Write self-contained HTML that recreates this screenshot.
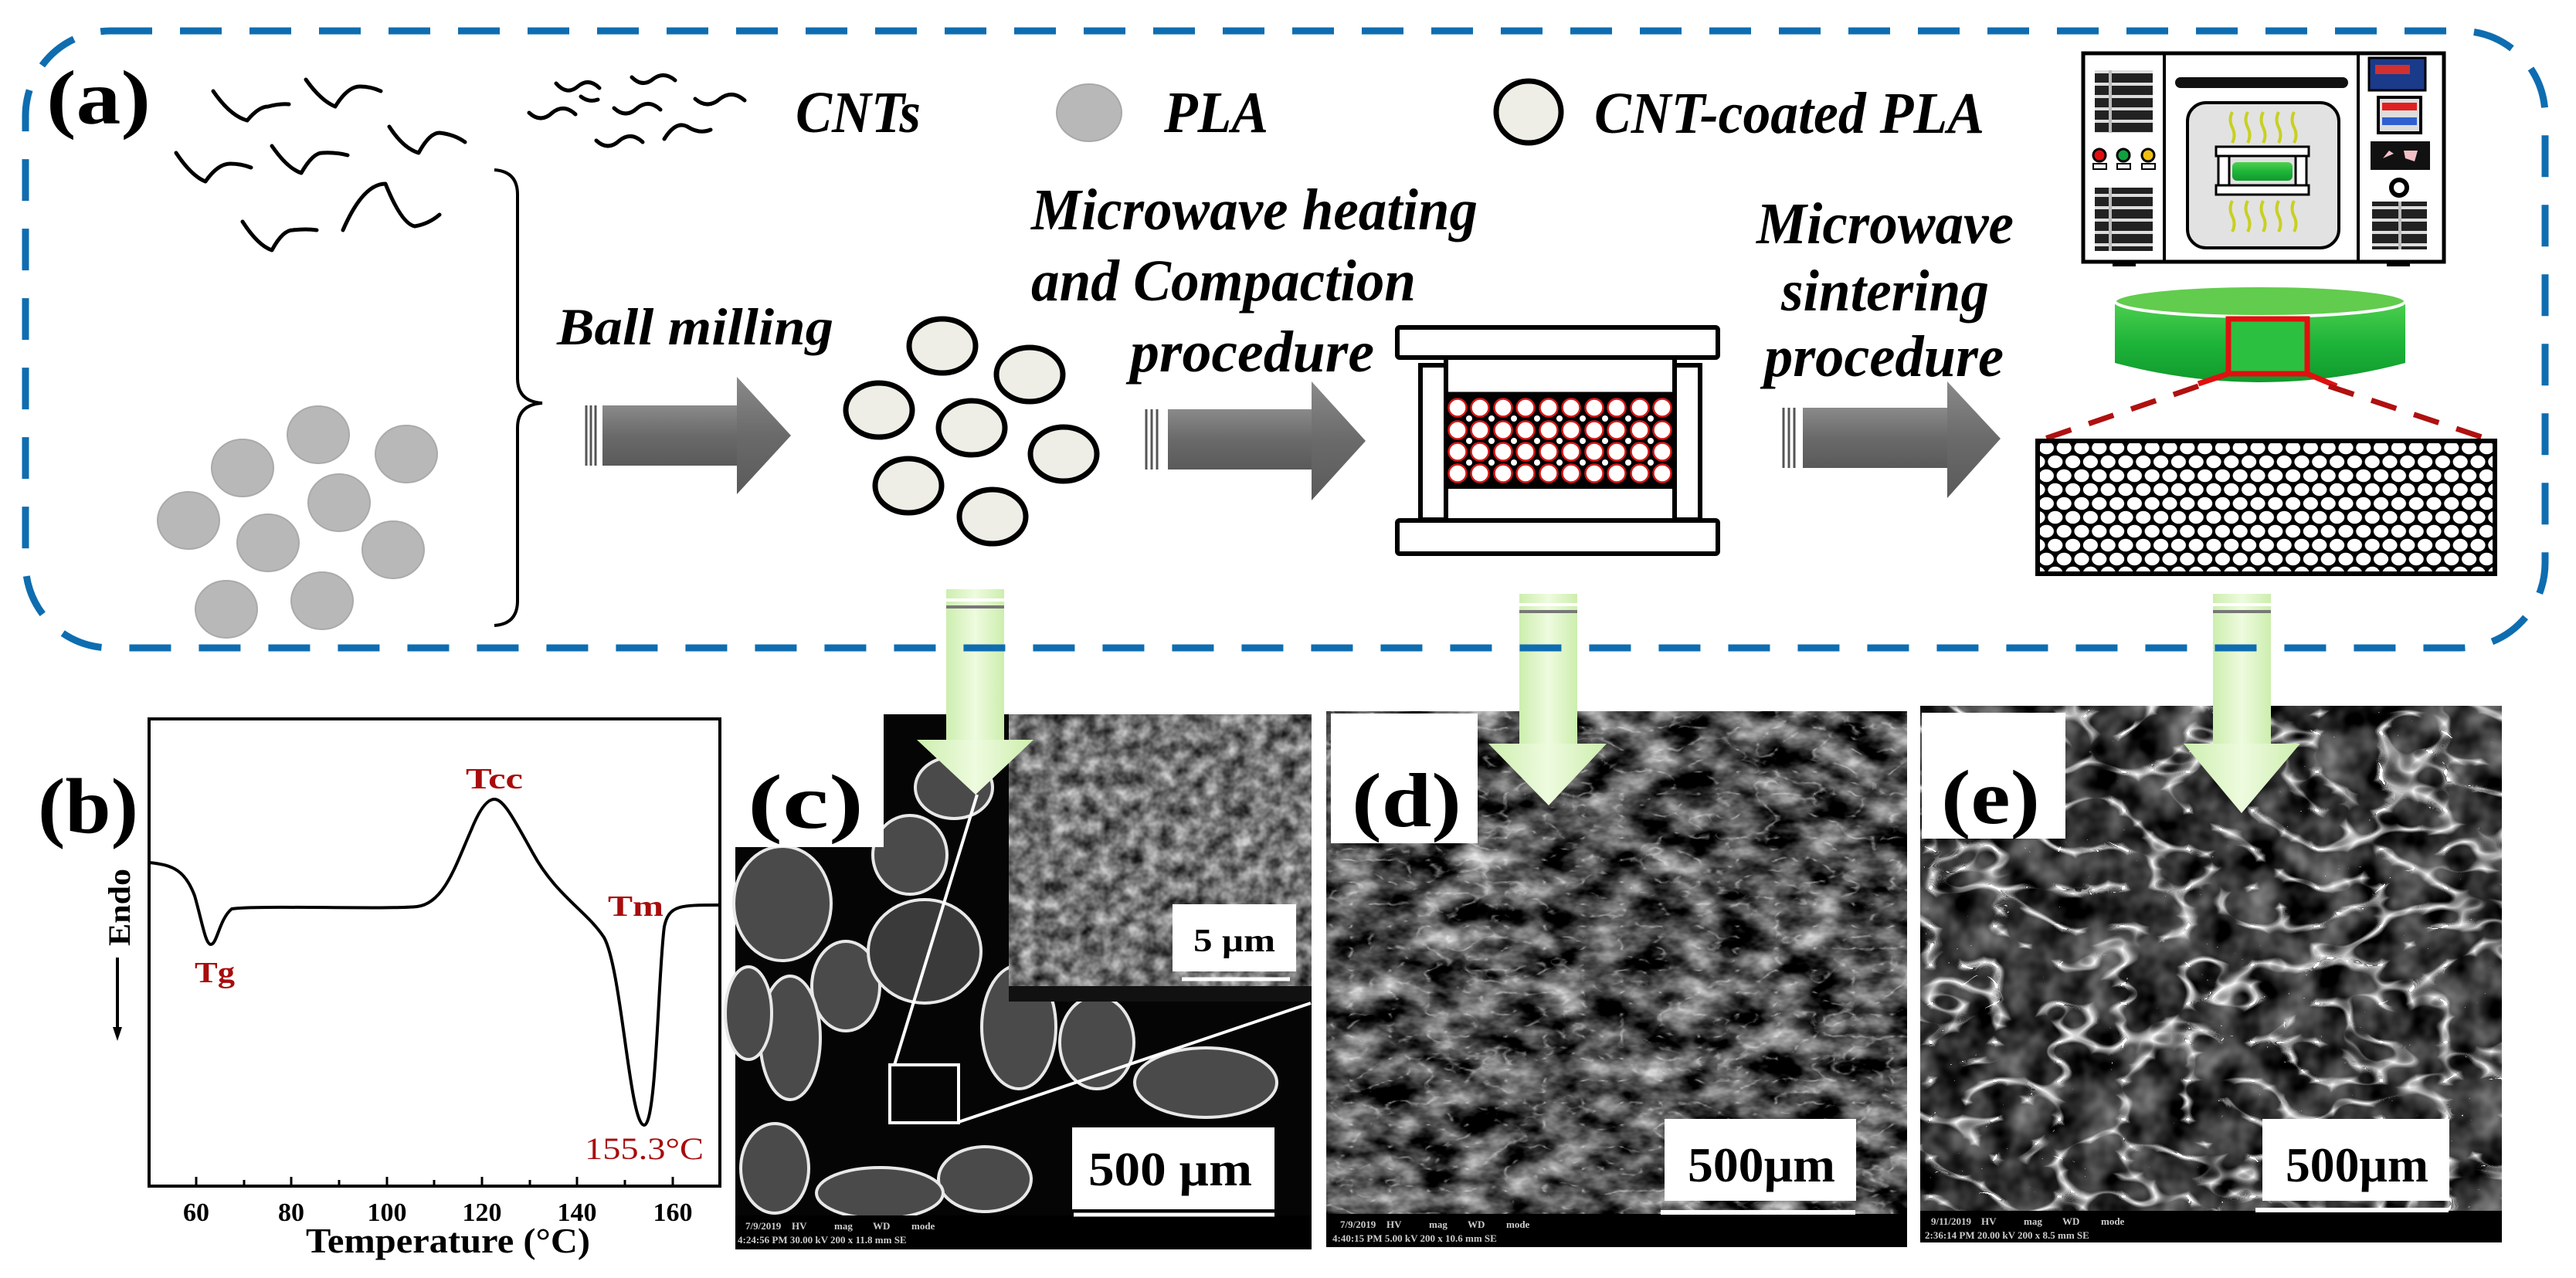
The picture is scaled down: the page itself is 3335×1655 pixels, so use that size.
<!DOCTYPE html>
<html><head><meta charset="utf-8"><style>
html,body{margin:0;padding:0;background:#fff;}
svg{display:block;}
text{font-family:"Liberation Serif",serif;font-weight:bold;}
.it{font-style:italic;}
</style></head><body>
<svg width="3335" height="1655" viewBox="0 0 3335 1655" xmlns="http://www.w3.org/2000/svg">
<defs>
<linearGradient id="garr" x1="0" y1="0" x2="1" y2="0">
<stop offset="0" stop-color="#cdeeae"/><stop offset="0.5" stop-color="#eefbdf"/><stop offset="1" stop-color="#cdeeae"/></linearGradient>
<linearGradient id="gray" x1="0" y1="0" x2="0" y2="1">
<stop offset="0" stop-color="#8a8a8a"/><stop offset="0.5" stop-color="#6a6a6a"/><stop offset="1" stop-color="#5a5a5a"/></linearGradient>
<linearGradient id="green" x1="0" y1="0" x2="0" y2="1">
<stop offset="0" stop-color="#4fd04f"/><stop offset="0.5" stop-color="#1fb53a"/><stop offset="1" stop-color="#0f9a2c"/></linearGradient>
<pattern id="hex" x="2638" y="571" width="22.8" height="36" patternUnits="userSpaceOnUse">
<rect width="22.8" height="36" fill="#000"/>
<ellipse cx="11.4" cy="9" rx="9.6" ry="8.2" fill="#fff"/>
<ellipse cx="0" cy="27" rx="9.6" ry="8.2" fill="#fff"/>
<ellipse cx="22.8" cy="27" rx="9.6" ry="8.2" fill="#fff"/>
</pattern>
<pattern id="grill" width="75" height="16" patternUnits="userSpaceOnUse">
<rect width="75" height="16" fill="#222"/><rect y="11" width="75" height="4" fill="#ddd"/>
<rect x="30" width="4" height="16" fill="#bbb"/>
</pattern>
<filter id="fd" x="0" y="0" width="1" height="1" color-interpolation-filters="sRGB">
<feTurbulence type="fractalNoise" baseFrequency="0.018 0.03" numOctaves="4" seed="7"/>
<feColorMatrix type="matrix" values="1.5 0 0 0 -0.45  1.5 0 0 0 -0.45  1.5 0 0 0 -0.45  0 0 0 0 1"/>
</filter>
<filter id="fd2" x="0" y="0" width="1" height="1" color-interpolation-filters="sRGB">
<feTurbulence type="turbulence" baseFrequency="0.02 0.035" numOctaves="3" seed="5"/>
<feColorMatrix type="matrix" values="0 0 0 0 1  0 0 0 0 1  0 0 0 0 1  -6 0 0 0 0.9"/>
</filter>
<filter id="fe" x="0" y="0" width="1" height="1" color-interpolation-filters="sRGB">
<feTurbulence type="turbulence" baseFrequency="0.012 0.02" numOctaves="2" seed="3"/>
<feColorMatrix type="matrix" values="0 0 0 0 1  0 0 0 0 1  0 0 0 0 1  -6 0 0 0 1.0"/>
</filter>
<filter id="fe2" x="0" y="0" width="1" height="1" color-interpolation-filters="sRGB">
<feTurbulence type="fractalNoise" baseFrequency="0.02" numOctaves="3" seed="9"/>
<feColorMatrix type="matrix" values="0.9 0 0 0 -0.25  0.9 0 0 0 -0.25  0.9 0 0 0 -0.25  0 0 0 0 1"/>
</filter>
<filter id="fc" x="0" y="0" width="1" height="1" color-interpolation-filters="sRGB">
<feTurbulence type="fractalNoise" baseFrequency="0.05" numOctaves="3" seed="11"/>
<feColorMatrix type="matrix" values="1.0 0 0 0 -0.05  1.0 0 0 0 -0.05  1.0 0 0 0 -0.05  0 0 0 0 1"/>
</filter>
</defs>

<g>
<rect x="1225" y="763" width="75" height="200" fill="url(#garr)"/>
<rect x="1225" y="775" width="75" height="4" fill="#fff"/><rect x="1225" y="784" width="75" height="4" fill="#777"/>
<rect x="1967" y="769" width="75" height="196" fill="url(#garr)"/>
<rect x="1967" y="781" width="75" height="4" fill="#fff"/><rect x="1967" y="790" width="75" height="4" fill="#777"/>
<rect x="2865" y="769" width="75" height="196" fill="url(#garr)"/>
<rect x="2865" y="781" width="75" height="4" fill="#fff"/><rect x="2865" y="790" width="75" height="4" fill="#777"/>
</g>

<rect x="33" y="40" width="3262" height="799" rx="110" fill="none" stroke="#0e6db0" stroke-width="9" stroke-dasharray="54 36"/>

<text x="60" y="160" font-size="100" textLength="135" lengthAdjust="spacingAndGlyphs">(a)</text>

<g fill="none" stroke="#000" stroke-width="5" stroke-linecap="round" stroke-linejoin="round">
<path d="M276,118 Q298,150 320,156 Q335,138 347,138 Q362,134 374,135"/>
<path d="M396,103 Q415,130 434,138 Q450,112 466,112 Q480,112 493,118"/>
<path d="M228,198 Q248,228 266,235 Q282,212 298,212 Q312,212 325,217"/>
<path d="M352,189 Q372,218 390,224 Q405,198 417,198 Q435,197 450,201"/>
<path d="M504,164 Q522,192 542,198 Q556,172 569,172 Q588,174 602,184"/>
<path d="M314,287 Q334,318 352,324 Q366,298 379,298 Q396,296 410,298"/>
<path d="M444,298 Q470,238 499,238 Q520,290 537,293 Q555,290 569,278"/>
</g>
<g fill="none" stroke="#000" stroke-width="5" stroke-linecap="round">
<path d="M720,108 q14,16 28,4 q14,-12 28,2"/>
<path d="M818,100 q14,14 28,2 q14,-10 28,2"/>
<path d="M685,146 q15,14 30,0 q15,-12 30,2"/>
<path d="M795,140 q15,14 30,0 q15,-12 30,2"/>
<path d="M900,128 q16,14 32,0 q16,-12 32,2"/>
<path d="M772,182 q15,14 30,0 q15,-12 30,2"/>
<path d="M860,180 q15,-24 30,-16 q15,10 30,4"/>
<path d="M752,125 q10,8 22,4"/>
</g>
<text class="it" x="1030" y="171" font-size="76" textLength="162" lengthAdjust="spacingAndGlyphs">CNTs</text>
<ellipse cx="1410" cy="146" rx="42" ry="37" fill="#b8b8b8" stroke="#a8a8a8" stroke-width="2"/>
<text class="it" x="1507" y="171" font-size="76" textLength="135" lengthAdjust="spacingAndGlyphs">PLA</text>
<ellipse cx="1979" cy="145" rx="42" ry="40" fill="#efeee6" stroke="#000" stroke-width="7"/>
<text class="it" x="2064" y="172" font-size="76" textLength="505" lengthAdjust="spacingAndGlyphs">CNT-coated PLA</text>

<g fill="#b8b8b8" stroke="#aaa" stroke-width="2">
<ellipse cx="412" cy="563" rx="40" ry="37"/><ellipse cx="314" cy="606" rx="40" ry="37"/>
<ellipse cx="526" cy="588" rx="40" ry="37"/><ellipse cx="439" cy="651" rx="40" ry="37"/>
<ellipse cx="244" cy="674" rx="40" ry="37"/><ellipse cx="347" cy="703" rx="40" ry="37"/>
<ellipse cx="509" cy="712" rx="40" ry="37"/><ellipse cx="293" cy="789" rx="40" ry="37"/>
<ellipse cx="417" cy="778" rx="40" ry="37"/>
</g>
<path d="M640,220 Q670,222 670,252 L670,490 Q670,520 702,522 Q670,524 670,554 L670,778 Q670,808 640,810" fill="none" stroke="#000" stroke-width="4"/>

<text class="it" x="721" y="446" font-size="68" textLength="358" lengthAdjust="spacingAndGlyphs">Ball milling</text>

<g fill="url(#gray)">
<rect x="780" y="525" width="176" height="78"/><polygon points="954,488 1024,564 954,640"/>
<rect x="1512" y="530" width="188" height="78"/><polygon points="1698,494 1768,571 1698,648"/>
<rect x="2334" y="528" width="189" height="78"/><polygon points="2521,494 2590,568 2521,645"/>
</g>
<g stroke="#555" stroke-width="3">
<line x1="759" y1="525" x2="759" y2="603"/><line x1="765" y1="525" x2="765" y2="603"/><line x1="771" y1="525" x2="771" y2="603"/>
<line x1="1484" y1="530" x2="1484" y2="608"/><line x1="1491" y1="530" x2="1491" y2="608"/><line x1="1498" y1="530" x2="1498" y2="608"/>
<line x1="2309" y1="528" x2="2309" y2="606"/><line x1="2316" y1="528" x2="2316" y2="606"/><line x1="2323" y1="528" x2="2323" y2="606"/>
</g>

<g fill="#efeee6" stroke="#000" stroke-width="7">
<ellipse cx="1220" cy="448" rx="43" ry="35"/><ellipse cx="1333" cy="485" rx="43" ry="35"/>
<ellipse cx="1138" cy="531" rx="43" ry="35"/><ellipse cx="1258" cy="554" rx="43" ry="35"/>
<ellipse cx="1377" cy="588" rx="43" ry="35"/><ellipse cx="1176" cy="629" rx="43" ry="35"/>
<ellipse cx="1285" cy="669" rx="43" ry="35"/>
</g>

<text class="it" x="1335" y="297" font-size="76" textLength="578" lengthAdjust="spacingAndGlyphs">Microwave heating</text>
<text class="it" x="1335" y="389" font-size="76" textLength="498" lengthAdjust="spacingAndGlyphs">and Compaction</text>
<text class="it" x="1463" y="481" font-size="76" textLength="316" lengthAdjust="spacingAndGlyphs">procedure</text>

<text class="it" x="2274" y="315" font-size="76" textLength="333" lengthAdjust="spacingAndGlyphs">Microwave</text>
<text class="it" x="2306" y="402" font-size="76" textLength="269" lengthAdjust="spacingAndGlyphs">sintering</text>
<text class="it" x="2284" y="487" font-size="76" textLength="310" lengthAdjust="spacingAndGlyphs">procedure</text>

<g stroke="#000" stroke-width="6" fill="#fff">
<rect x="1809" y="424" width="415" height="39" rx="3"/>
<rect x="1839" y="473" width="33" height="200"/>
<rect x="2168" y="473" width="33" height="200"/>
<line x1="1872" y1="463" x2="1872" y2="673"/><line x1="2168" y1="463" x2="2168" y2="673"/>
<rect x="1809" y="674" width="415" height="43" rx="3"/>
</g>
<rect x="1873" y="510" width="295" height="123" fill="#000"/>
<g fill="#fff">
<g id="dots">
<circle cx="1902" cy="542" r="4"/><circle cx="1931" cy="542" r="4"/><circle cx="1960" cy="542" r="4"/><circle cx="1990" cy="542" r="4"/><circle cx="2019" cy="542" r="4"/><circle cx="2049" cy="542" r="4"/><circle cx="2078" cy="542" r="4"/><circle cx="2108" cy="542" r="4"/><circle cx="2137" cy="542" r="4"/>
</g>
<use href="#dots" y="29"/><use href="#dots" y="57"/>
</g>
<g fill="#fff" stroke="#d81818" stroke-width="2.5">
<g id="crow">
<circle cx="1887" cy="528" r="11.5"/><circle cx="1916" cy="528" r="11.5"/><circle cx="1946" cy="528" r="11.5"/><circle cx="1975" cy="528" r="11.5"/><circle cx="2005" cy="528" r="11.5"/><circle cx="2034" cy="528" r="11.5"/><circle cx="2064" cy="528" r="11.5"/><circle cx="2093" cy="528" r="11.5"/><circle cx="2123" cy="528" r="11.5"/><circle cx="2152" cy="528" r="11.5"/>
</g>
<use href="#crow" y="29"/><use href="#crow" y="57"/><use href="#crow" y="85"/>
</g>
<line x1="1873" y1="510" x2="2168" y2="510" stroke="#000" stroke-width="5"/>

<rect x="2697" y="69" width="467" height="270" fill="#fff" stroke="#000" stroke-width="5"/>
<line x1="2802" y1="69" x2="2802" y2="339" stroke="#000" stroke-width="4"/>
<line x1="3053" y1="69" x2="3053" y2="339" stroke="#000" stroke-width="4"/>
<rect x="2712" y="91" width="75" height="81" fill="url(#grill)"/>
<rect x="2712" y="243" width="75" height="82" fill="url(#grill)"/>
<circle cx="2718" cy="201" r="8" fill="#e01010" stroke="#000" stroke-width="3"/>
<circle cx="2749" cy="201" r="8" fill="#10a040" stroke="#000" stroke-width="3"/>
<circle cx="2781" cy="201" r="8" fill="#f0c010" stroke="#000" stroke-width="3"/>
<g fill="#fff" stroke="#000" stroke-width="2"><rect x="2710" y="212" width="17" height="7"/><rect x="2741" y="212" width="17" height="7"/><rect x="2773" y="212" width="17" height="7"/></g>
<rect x="2816" y="100" width="224" height="14" rx="7" fill="#111"/>
<rect x="2832" y="133" width="196" height="188" rx="24" fill="#e2e2e2" stroke="#000" stroke-width="4"/>
<rect x="2869" y="190" width="120" height="12" fill="#fff" stroke="#000" stroke-width="3"/>
<rect x="2869" y="240" width="120" height="12" fill="#fff" stroke="#000" stroke-width="3"/>
<rect x="2872" y="202" width="14" height="38" fill="#fff" stroke="#000" stroke-width="3"/>
<rect x="2972" y="202" width="14" height="38" fill="#fff" stroke="#000" stroke-width="3"/>
<rect x="2890" y="210" width="78" height="24" rx="6" fill="url(#green)"/>
<g stroke="#c8d020" stroke-width="4" fill="none">
<path d="M2890,185 q5,-10 0,-20 q-5,-10 0,-20"/><path d="M2910,185 q5,-10 0,-20 q-5,-10 0,-20"/><path d="M2930,185 q5,-10 0,-20 q-5,-10 0,-20"/><path d="M2950,185 q5,-10 0,-20 q-5,-10 0,-20"/><path d="M2970,185 q5,-10 0,-20 q-5,-10 0,-20"/>
<path d="M2890,300 q5,-10 0,-20 q-5,-10 0,-20"/><path d="M2910,300 q5,-10 0,-20 q-5,-10 0,-20"/><path d="M2930,300 q5,-10 0,-20 q-5,-10 0,-20"/><path d="M2950,300 q5,-10 0,-20 q-5,-10 0,-20"/><path d="M2970,300 q5,-10 0,-20 q-5,-10 0,-20"/>
</g>
<rect x="3067" y="75" width="73" height="42" fill="#1a3a8a" stroke="#000" stroke-width="3"/>
<rect x="3075" y="84" width="45" height="12" fill="#d03030"/>
<rect x="3079" y="126" width="55" height="46" fill="#ddd" stroke="#000" stroke-width="4"/>
<rect x="3084" y="133" width="45" height="10" fill="#e02020"/><rect x="3084" y="152" width="45" height="10" fill="#3060d0"/>
<rect x="3069" y="183" width="77" height="37" fill="#111"/>
<path d="M3085,205 l8,-10 l6,4 z M3112,195 l18,0 l-4,14 l-12,-4 z" fill="#f4c0c8"/>
<circle cx="3106" cy="243" r="10" fill="#fff" stroke="#000" stroke-width="6"/>
<rect x="3071" y="261" width="71" height="62" fill="url(#grill)"/>
<rect x="2735" y="339" width="30" height="6" fill="#000"/><rect x="3090" y="339" width="30" height="6" fill="#000"/>

<path d="M2738,390 L2738,470 Q2926,520 3114,470 L3114,390 Z" fill="url(#green)"/>
<ellipse cx="2926" cy="390" rx="188" ry="20" fill="#62cc4e" stroke="#fff" stroke-width="4"/>
<rect x="2885" y="413" width="102" height="71" fill="#2cc040" stroke="#e01010" stroke-width="7"/>
<path d="M2885,484 L2846,497 M2987,484 L3025,500" stroke="#e01010" stroke-width="7"/>
<path d="M2846,500 L2639,571 M3015,500 L3228,571" stroke="#b01010" stroke-width="7" stroke-dasharray="34 24"/>

<rect x="2638" y="571" width="592" height="172" fill="url(#hex)" stroke="#000" stroke-width="6"/>

<text x="49" y="1078" font-size="102" textLength="130" lengthAdjust="spacingAndGlyphs">(b)</text>
<text x="0" y="0" font-size="40" transform="translate(168,1225) rotate(-90)" textLength="100" lengthAdjust="spacingAndGlyphs">Endo</text>
<line x1="152" y1="1240" x2="152" y2="1335" stroke="#000" stroke-width="4"/>
<polygon points="146,1330 158,1330 152,1348" fill="#000"/>
<rect x="193" y="931" width="739" height="605" fill="none" stroke="#000" stroke-width="4"/>
<g stroke="#000" stroke-width="3">
<line x1="254" y1="1536" x2="254" y2="1524"/><line x1="316" y1="1536" x2="316" y2="1528"/><line x1="377" y1="1536" x2="377" y2="1524"/><line x1="439" y1="1536" x2="439" y2="1528"/><line x1="501" y1="1536" x2="501" y2="1524"/><line x1="562" y1="1536" x2="562" y2="1528"/><line x1="624" y1="1536" x2="624" y2="1524"/><line x1="686" y1="1536" x2="686" y2="1528"/><line x1="747" y1="1536" x2="747" y2="1524"/><line x1="809" y1="1536" x2="809" y2="1528"/><line x1="871" y1="1536" x2="871" y2="1524"/>
</g>
<g font-size="34" text-anchor="middle">
<text x="254" y="1581">60</text><text x="377" y="1581">80</text><text x="501" y="1581">100</text><text x="624" y="1581">120</text><text x="747" y="1581">140</text><text x="871" y="1581">160</text>
</g>
<text x="396" y="1622" font-size="46" textLength="368" lengthAdjust="spacingAndGlyphs">Temperature (°C)</text>
<path d="M193,1117 C225,1120 240,1128 252,1160 C262,1195 266,1223 273,1223 C281,1223 284,1190 300,1177 C330,1172 500,1178 540,1174 C575,1170 590,1120 610,1075 C622,1045 632,1035 640,1035 C652,1035 665,1060 690,1105 C720,1160 760,1180 782,1214 C805,1255 815,1457 834,1457 C850,1457 852,1260 860,1200 C866,1172 880,1172 932,1172" fill="none" stroke="#000" stroke-width="4"/>
<g fill="#a80c0c">
<text x="603" y="1021" font-size="38" textLength="74" lengthAdjust="spacingAndGlyphs">Tcc</text>
<text x="787" y="1186" font-size="38" textLength="72" lengthAdjust="spacingAndGlyphs">Tm</text>
<text x="252" y="1272" font-size="38" textLength="52" lengthAdjust="spacingAndGlyphs">Tg</text>
<text x="757" y="1501" font-size="40" textLength="154" lengthAdjust="spacingAndGlyphs" style="font-weight:normal">155.3°C</text>
</g>

<rect x="952" y="925" width="746" height="693" fill="#050505"/>
<g fill="#4a4a4a" stroke="#e8e8e8" stroke-width="4">
<ellipse cx="1013" cy="1170" rx="63" ry="74"/><ellipse cx="1095" cy="1277" rx="44" ry="58"/>
<ellipse cx="1197" cy="1232" rx="73" ry="67" fill="#3a3a3a"/><ellipse cx="1178" cy="1107" rx="48" ry="51"/>
<ellipse cx="1023" cy="1344" rx="39" ry="80"/><ellipse cx="1319" cy="1330" rx="48" ry="80"/>
<ellipse cx="1420" cy="1350" rx="48" ry="60"/><ellipse cx="1561" cy="1402" rx="92" ry="45"/>
<ellipse cx="1275" cy="1527" rx="60" ry="42"/><ellipse cx="1139" cy="1545" rx="82" ry="33"/>
<ellipse cx="1003" cy="1513" rx="44" ry="58"/><ellipse cx="969" cy="1312" rx="30" ry="60"/>
<ellipse cx="1235" cy="1020" rx="50" ry="40"/>
</g>
<rect x="1306" y="925" width="392" height="352" fill="#777" filter="url(#fc)"/>
<rect x="1306" y="1277" width="392" height="20" fill="#111"/>
<rect x="1518" y="1171" width="160" height="87" fill="#fff"/>
<text x="1545" y="1232" font-size="42" textLength="106" lengthAdjust="spacingAndGlyphs">5 µm</text>
<line x1="1530" y1="1268" x2="1670" y2="1268" stroke="#fff" stroke-width="5"/>
<rect x="952" y="925" width="192" height="172" fill="#fff"/>
<text x="968" y="1072" font-size="100" textLength="150" lengthAdjust="spacingAndGlyphs">(c)</text>
<rect x="1152" y="1379" width="89" height="75" fill="none" stroke="#fff" stroke-width="4"/>
<line x1="1158" y1="1379" x2="1265" y2="1029" stroke="#fff" stroke-width="4"/>
<line x1="1241" y1="1453" x2="1697" y2="1299" stroke="#fff" stroke-width="4"/>
<rect x="1388" y="1460" width="262" height="106" fill="#fff"/>
<text x="1409" y="1535" font-size="62" textLength="212" lengthAdjust="spacingAndGlyphs">500 µm</text>
<rect x="952" y="1574" width="746" height="44" fill="#000"/>
<line x1="1390" y1="1573" x2="1650" y2="1573" stroke="#fff" stroke-width="5"/>
<g fill="#ccc" font-size="13" style="font-weight:normal"><text x="965" y="1592">7/9/2019</text><text x="1025" y="1592">HV</text><text x="1080" y="1592">mag</text><text x="1130" y="1592">WD</text><text x="1180" y="1592">mode</text>
<text x="955" y="1610">4:24:56 PM  30.00 kV  200 x  11.8 mm  SE</text></g>

<rect x="1717" y="921" width="752" height="694" fill="#444" filter="url(#fd)"/>
<rect x="1717" y="921" width="752" height="694" fill="#fff" filter="url(#fd2)" opacity="0.55"/>
<rect x="1723" y="924" width="190" height="168" fill="#fff"/>
<text x="1750" y="1070" font-size="100" textLength="142" lengthAdjust="spacingAndGlyphs">(d)</text>
<rect x="2155" y="1449" width="248" height="106" fill="#fff"/>
<text x="2185" y="1530" font-size="64" textLength="191" lengthAdjust="spacingAndGlyphs">500µm</text>
<rect x="1717" y="1572" width="752" height="43" fill="#000"/>
<line x1="2150" y1="1570" x2="2402" y2="1570" stroke="#fff" stroke-width="6"/>
<g fill="#ccc" font-size="13" style="font-weight:normal"><text x="1735" y="1590">7/9/2019</text><text x="1795" y="1590">HV</text><text x="1850" y="1590">mag</text><text x="1900" y="1590">WD</text><text x="1950" y="1590">mode</text>
<text x="1725" y="1608">4:40:15 PM  5.00 kV  200 x  10.6 mm  SE</text></g>

<rect x="2486" y="914" width="753" height="695" fill="#222" filter="url(#fe2)"/>
<rect x="2486" y="914" width="753" height="695" fill="#fff" filter="url(#fe)"/>
<rect x="2488" y="923" width="186" height="163" fill="#fff"/>
<text x="2513" y="1066" font-size="100" textLength="128" lengthAdjust="spacingAndGlyphs">(e)</text>
<rect x="2929" y="1449" width="242" height="106" fill="#fff"/>
<text x="2959" y="1530" font-size="64" textLength="185" lengthAdjust="spacingAndGlyphs">500µm</text>
<rect x="2486" y="1568" width="753" height="41" fill="#000"/>
<line x1="2920" y1="1567" x2="3170" y2="1567" stroke="#fff" stroke-width="6"/>
<g fill="#ccc" font-size="13" style="font-weight:normal"><text x="2500" y="1586">9/11/2019</text><text x="2565" y="1586">HV</text><text x="2620" y="1586">mag</text><text x="2670" y="1586">WD</text><text x="2720" y="1586">mode</text>
<text x="2492" y="1604">2:36:14 PM  20.00 kV  200 x  8.5 mm  SE</text></g>

<rect x="1225" y="925" width="75" height="38" fill="url(#garr)"/>
<polygon points="1187,958 1338,958 1263,1029" fill="url(#garr)"/>
<rect x="1967" y="921" width="75" height="44" fill="url(#garr)"/>
<polygon points="1927,963 2080,963 2005,1043" fill="url(#garr)"/>
<rect x="2865" y="914" width="75" height="51" fill="url(#garr)"/>
<polygon points="2827,963 2978,963 2902,1053" fill="url(#garr)"/>
</svg>
</body></html>
